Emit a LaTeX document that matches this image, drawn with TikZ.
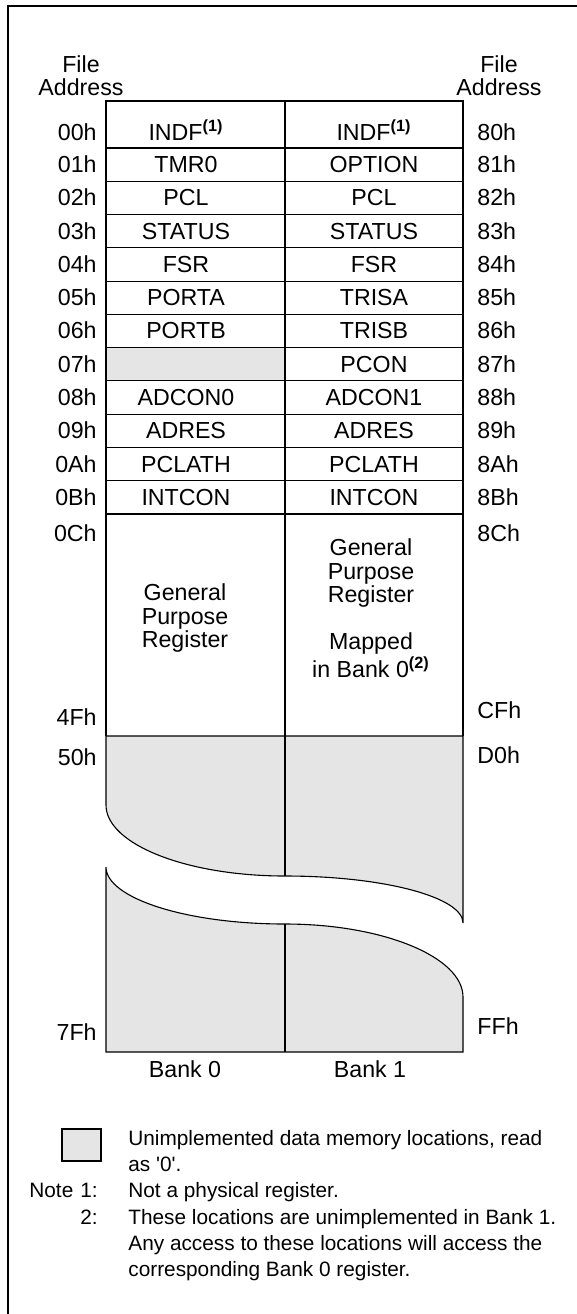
\documentclass[tikz,border=0pt]{standalone}
\usepackage{fontspec}
\setmainfont{Liberation Sans}
\newcommand\tableFont{\fontsize{11.6}{11.75}\selectfont}
\newcommand\noteFont{\fontsize{10.4}{13}\selectfont}
\newcommand\frameColor{black}
\newcommand\frameLineWidth{1.25pt}
\newcommand\cellColor{black}
\newcommand\cellLineWidth{0.55pt}
\newcommand\unusedColor{black!10}
\newcommand\rowPitch{33.27}
\newcommand\rowStart{148}
\newcommand\tableLeft{106}
\newcommand\tableMid{285}
\newcommand\tableRight{463}
\newcommand\tableTop{101}
\newcommand\gprEnd{736}
\newcommand\tableBottom{1052}
\newcommand\bankZeroX{186}
\newcommand\bankOneX{374}
\newcommand\addrLeftX{97}
\newcommand\addrRightX{477}

\begin{document}
\begin{tikzpicture}[x=0.5pt, y=-0.5pt, every node/.style={inner sep=0pt, font=\tableFont}]

    \useasboundingbox (0,0) rectangle (577,1314);

    % outer frame, only its top and left edges lie on the page
    \draw [draw=\frameColor, line width=\frameLineWidth] (8,1314) -- (8,6) -- (577,6);

    % unimplemented locations
    \fill [\unusedColor] (\tableLeft,\rowStart+6*\rowPitch) rectangle (\tableMid,\rowStart+7*\rowPitch);
    \filldraw [fill=\unusedColor, draw=\cellColor, line width=\cellLineWidth] (\tableLeft,\gprEnd) -- (\tableLeft,805)
        .. controls (\tableLeft,844) and (186,876) .. (\tableMid,876)
        .. controls (383,876) and (\tableRight,897) .. (\tableRight,923) -- (\tableRight,\gprEnd) -- cycle;
    \filldraw [fill=\unusedColor, draw=\cellColor, line width=\cellLineWidth] (\tableLeft,867)
        .. controls (\tableLeft,898) and (186,924) .. (\tableMid,924)
        .. controls (383,924) and (\tableRight,957) .. (\tableRight,997) -- (\tableRight,\tableBottom) -- (\tableLeft,\tableBottom) -- cycle;

    % table lines
    \draw [draw=\cellColor, line width=\cellLineWidth] (\tableLeft,\gprEnd) -- (\tableLeft,\tableTop) -- (\tableRight,\tableTop) -- (\tableRight,\gprEnd);
    \draw [draw=\cellColor, line width=\cellLineWidth] (\tableMid,\tableTop) -- (\tableMid,876);
    \draw [draw=\cellColor, line width=\cellLineWidth] (\tableMid,924) -- (\tableMid,\tableBottom);
    \foreach \k in {0,...,11}{
        \draw [draw=\cellColor, line width=\cellLineWidth] (\tableLeft,\rowStart+\k*\rowPitch) -- (\tableRight,\rowStart+\k*\rowPitch);
    }

    % headings
    \node [align=center, anchor=north] (headLeft) at (81,55) {File\\Address};
    \node [align=center, anchor=north] (headRight) at (499,55) {File\\Address};

    % register rows
    \node [anchor=base east] (addrL0) at (\addrLeftX,140) {00h};
    \node [anchor=base] (cellL0) at (\bankZeroX,140) {INDF\textsuperscript{\textbf{(1)}}};
    \node [anchor=base] (cellR0) at (\bankOneX,140) {INDF\textsuperscript{\textbf{(1)}}};
    \node [anchor=base west] (addrR0) at (\addrRightX,140) {80h};
    \foreach \r/\lreg/\rreg/\laddr/\raddr [evaluate=\r as \yb using \rowStart+\rowPitch*(\r-0.5)+8] in
        {1/TMR0/OPTION/01h/81h, 2/PCL/PCL/02h/82h, 3/STATUS/STATUS/03h/83h, 4/FSR/FSR/04h/84h,
         5/PORTA/TRISA/05h/85h, 6/PORTB/TRISB/06h/86h, 7//PCON/07h/87h, 8/ADCON0/ADCON1/08h/88h,
         9/ADRES/ADRES/09h/89h, 10/PCLATH/PCLATH/0Ah/8Ah, 11/INTCON/INTCON/0Bh/8Bh}{
        \node [anchor=base east] (addrL\r) at (\addrLeftX,\yb) {\laddr};
        \node [anchor=base] (cellL\r) at (\bankZeroX,\yb) {\lreg};
        \node [anchor=base] (cellR\r) at (\bankOneX,\yb) {\rreg};
        \node [anchor=base west] (addrR\r) at (\addrRightX,\yb) {\raddr};
    }

    % general purpose registers and the unimplemented range
    \node [align=center, anchor=north] (gprLeft) at (185,583.5) {General\\Purpose\\Register};
    \node [align=center, anchor=north] (gprRight) at (371,538.5) {General\\Purpose\\Register\\[11.75pt]Mapped\\in Bank 0\textsuperscript{\textbf{(2)}}};
    \node [anchor=base east] (addrL12) at (\addrLeftX,541) {0Ch};
    \node [anchor=base west] (addrR12) at (\addrRightX,541) {8Ch};
    \node [anchor=base east] (addrL13) at (\addrLeftX,725) {4Fh};
    \node [anchor=base west] (addrR13) at (\addrRightX,718) {CFh};
    \node [anchor=base east] (addrL14) at (\addrLeftX,765) {50h};
    \node [anchor=base west] (addrR14) at (\addrRightX,763) {D0h};
    \node [anchor=base east] (addrL15) at (\addrLeftX,1040) {7Fh};
    \node [anchor=base west] (addrR15) at (\addrRightX,1034) {FFh};

    \node [anchor=base] (bankZero) at (185,1077) {Bank 0};
    \node [anchor=base] (bankOne) at (370,1077) {Bank 1};

    % legend and notes
    \filldraw [fill=\unusedColor, draw=\cellColor, line width=\cellLineWidth] (62,1129) rectangle (101,1161);
    \node [font=\noteFont, align=left, anchor=north west] (legendText) at (128,1130.2) {Unimplemented data memory locations, read\\as \textquotesingle 0\textquotesingle.};
    \node [font=\noteFont, anchor=base west] (noteWord) at (29,1197.4) {Note};
    \node [font=\noteFont, anchor=base east] (noteOne) at (98,1197.4) {1:};
    \node [font=\noteFont, anchor=base west] (noteOneText) at (128,1197.4) {Not a physical register.};
    \node [font=\noteFont, anchor=base east] (noteTwo) at (98,1224.4) {2:};
    \node [font=\noteFont, align=left, anchor=north west] (noteTwoText) at (128,1209.2) {These locations are unimplemented in Bank 1.\\Any access to these locations will access the\\corresponding Bank 0 register.};

\end{tikzpicture}
\end{document}
